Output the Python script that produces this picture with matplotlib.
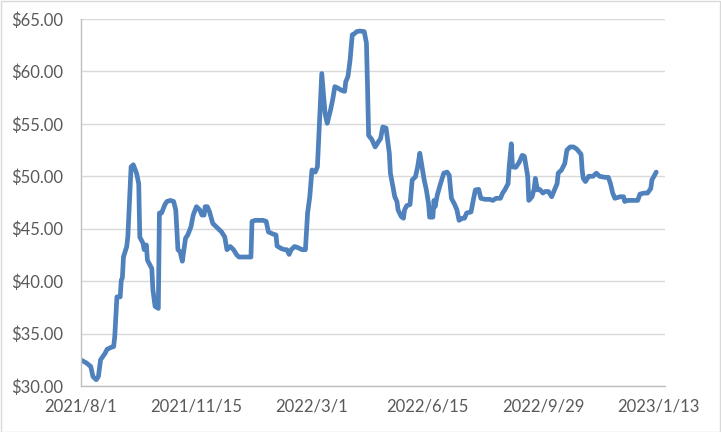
import pandas as pd
import matplotlib.pyplot as plt
from matplotlib.patches import Rectangle

# days after 2021/8/1 and price
days = [0, 5, 9, 11, 14, 16, 18, 22, 24, 28, 30, 31, 32, 33, 36, 37, 38, 39, 42, 43,
        45, 46, 48, 51, 53, 54, 57, 58, 60, 61, 65, 66, 68, 71, 72, 74, 77, 79, 82, 85,
        87, 89, 91, 93, 94, 96, 98, 101, 103, 106, 109, 111, 113, 114, 116, 118, 121, 125, 129, 132,
        134, 137, 140, 143, 145, 150, 156, 157, 160, 167, 170, 172, 176, 179, 180, 184, 187, 189, 191, 193,
        196, 199, 203, 206, 208, 210, 212, 215, 217, 219, 221, 222, 224, 226, 229, 231, 233, 236, 239, 242,
        243, 245, 247, 249, 251, 253, 256, 260, 262, 263, 264, 267, 270, 273, 275, 277, 280, 281, 283, 284,
        288, 290, 291, 294, 296, 297, 299, 302, 304, 307, 309, 311, 313, 315, 317, 319, 320, 323, 324, 325,
        327, 330, 333, 336, 338, 340, 343, 345, 347, 350, 352, 354, 358, 360, 362, 365, 367, 371, 375, 378,
        381, 385, 387, 389, 392, 393, 395, 396, 399, 402, 405, 407, 410, 411, 414, 416, 417, 419, 421, 424,
        426, 429, 432, 434, 437, 438, 441, 444, 446, 449, 452, 455, 459, 460, 461, 463, 466, 470, 473, 476,
        481, 484, 486, 488, 490, 495, 498, 499, 502, 507, 511, 513, 517, 520, 523, 524, 527, 528]
prices = [32.48, 32.2, 31.85, 30.9, 30.6, 30.9, 32.5, 33.1, 33.5, 33.7, 33.75, 34.7, 36.6, 38.5, 38.5, 40.1, 40.3, 42.3, 43.3, 44.2,
          48.7, 50.9, 51.1, 50.3, 49.3, 44.2, 43.6, 43.0, 43.45, 42.0, 41.2, 39.2, 37.6, 37.4, 46.5, 46.5, 47.3, 47.6, 47.7, 47.6,
          46.8, 43.0, 42.8, 41.9, 42.65, 44.1, 44.4, 45.2, 46.3, 47.1, 46.8, 46.3, 46.3, 47.1, 47.1, 46.6, 45.5, 45.1, 44.7, 44.2,
          43.0, 43.3, 43.0, 42.5, 42.3, 42.3, 42.3, 45.7, 45.8, 45.8, 45.7, 44.7, 44.5, 44.4, 43.35, 43.1, 43.0, 43.0, 42.55, 43.0,
          43.3, 43.2, 43.0, 43.0, 46.5, 48.05, 50.6, 50.4, 50.9, 55.4, 59.8, 58.55, 56.0, 55.05, 56.3, 57.3, 58.55, 58.4, 58.2, 58.1,
          59.0, 59.5, 61.1, 63.5, 63.6, 63.8, 63.85, 63.8, 62.7, 58.55, 53.9, 53.5, 52.8, 53.3, 53.6, 54.7, 54.6, 53.8, 52.2, 50.3,
          48.05, 47.6, 46.8, 46.15, 46.0, 46.8, 47.2, 47.3, 49.65, 49.95, 50.9, 52.2, 50.9, 49.65, 48.7, 47.4, 46.1, 46.1, 47.7, 47.1,
          48.2, 49.3, 50.3, 50.4, 50.1, 47.9, 47.3, 46.8, 45.8, 46.0, 46.0, 46.5, 46.6, 47.7, 48.7, 48.75, 47.9, 47.8, 47.8, 47.7,
          47.9, 47.9, 48.4, 48.7, 49.3, 50.9, 53.1, 50.9, 50.85, 51.3, 52.0, 51.9, 50.0, 47.7, 48.05, 48.85, 49.8, 48.7, 48.75, 48.4,
          48.55, 48.55, 48.05, 48.55, 49.3, 50.3, 50.6, 51.2, 52.5, 52.8, 52.8, 52.6, 52.1, 50.6, 49.8, 49.5, 50.0, 50.0, 50.3, 50.0,
          49.9, 49.9, 49.3, 48.4, 47.9, 48.05, 48.05, 47.6, 47.7, 47.7, 47.7, 48.3, 48.4, 48.4, 48.85, 49.65, 50.2, 50.4]

start = pd.Timestamp('2021-08-01')
dates = start + pd.to_timedelta(days, unit='D')
tick_dates = [start + pd.Timedelta(days=106 * i) for i in range(6)]
tick_labels = [f"{d.year}/{d.month}/{d.day}" for d in tick_dates]

plt.rcParams['font.family'] = ['Lato', 'DejaVu Sans']

fig = plt.figure(figsize=(7.21, 4.32), dpi=100)
ax = fig.add_axes([0.1123, 0.1065, 0.81, 0.8495])

ax.plot(dates, prices, color='#4F81BD', linewidth=3.4, solid_joinstyle='round', solid_capstyle='round')

ax.set_ylim(30, 65)
ax.set_yticks(range(30, 66, 5))
ax.set_yticklabels([f"${v:.2f}" for v in range(30, 66, 5)])
ax.set_xlim(start, start + pd.Timedelta(days=536))
ax.set_xticks(tick_dates)
ax.set_xticklabels(tick_labels)

# grid and axis styling, Excel look
ax.grid(axis='y', color='#D9D9D9', linewidth=1)
ax.set_axisbelow(True)
for side in ['top', 'right']:
    ax.spines[side].set_visible(False)
for side in ['left', 'bottom']:
    ax.spines[side].set_color('#BFBFBF')
    ax.spines[side].set_linewidth(1)
ax.tick_params(axis='y', length=0, pad=13, labelsize=12, labelcolor='#595959')
ax.tick_params(axis='x', length=0, pad=9, labelsize=12, labelcolor='#595959')

# light chart border
fig.patches.append(Rectangle((0.001, 0.001), 0.997, 0.996, transform=fig.transFigure,
                             fill=False, edgecolor='#D9D9D9', linewidth=1))

fig.savefig('out.png', dpi=100)
